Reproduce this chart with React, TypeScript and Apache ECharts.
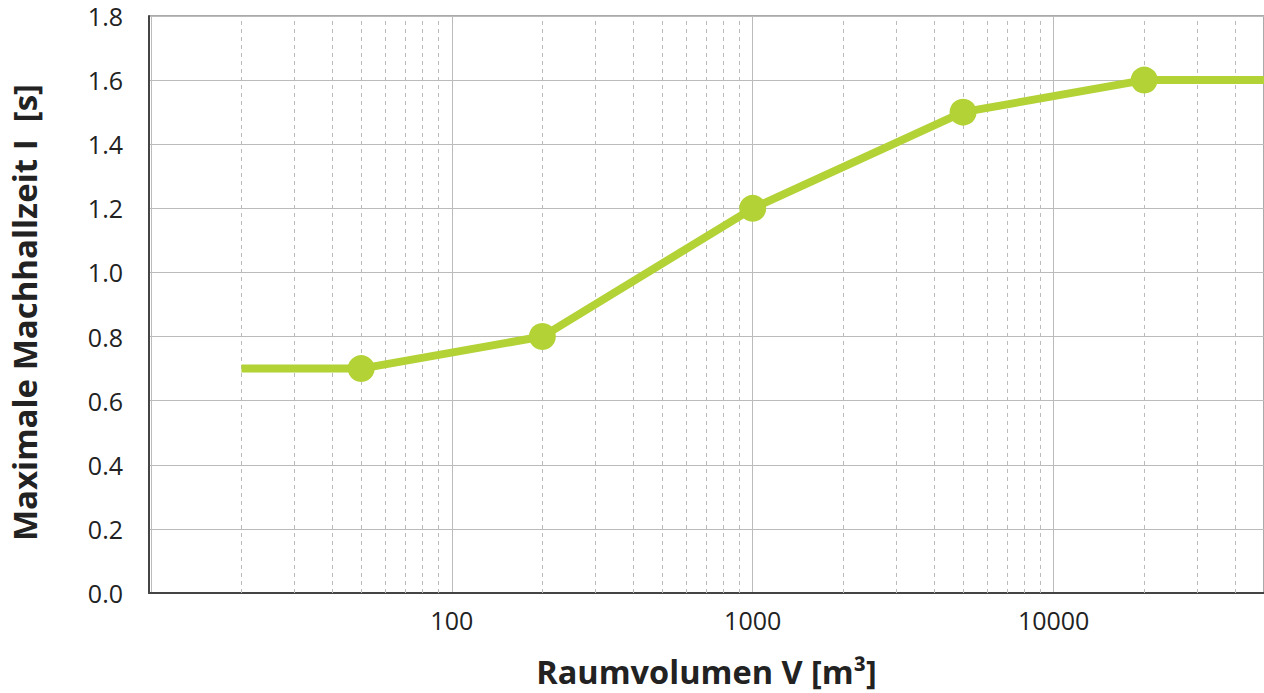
import React, { useEffect, useRef } from "react";
import * as echarts from "echarts";

const volumes = [20, 50, 200, 1000, 5000, 20000, 50000];
const reverbTimes = [0.7, 0.7, 0.8, 1.2, 1.5, 1.6, 1.6];
const markerVolumes = [50, 200, 1000, 5000, 20000];
const xLabelValues = [100, 1000, 10000];
const minorGridValues = [
  20, 30, 40, 50, 60, 70, 80, 90,
  200, 300, 400, 500, 600, 700, 800, 900,
  2000, 3000, 4000, 5000, 6000, 7000, 8000, 9000,
  20000, 30000, 40000,
];
const yTitle = "Maximale Machhallzeit I  [s]";
const xTitle = "Raumvolumen V [m³]";

export default function App() {
  const ref = useRef<HTMLDivElement>(null);
  useEffect(() => {
    const chart = echarts.init(ref.current!, undefined, { renderer: "svg" });
    const green = "#b2d235";
    const font = "'Open Sans', 'Noto Sans', sans-serif";
    chart.setOption({
      animation: false,
      grid: {
        left: 147,
        top: 16,
        bottom: 95,
        right: -4,
        show: true,
        borderColor: "#555",
        borderWidth: 1,
      },
      xAxis: {
        type: "log",
        logBase: 10,
        min: 9.86,
        max: 50000,
        name: xTitle,
        nameLocation: "middle",
        nameGap: 62,
        nameTextStyle: { fontFamily: font, fontSize: 32.5, fontWeight: "bold", color: "#222" },
        axisLine: { show: true, lineStyle: { color: "#444", width: 2 } },
        axisTick: { show: false },
        axisLabel: {
          fontFamily: font,
          fontSize: 25,
          color: "#222",
          margin: 14,
          showMinLabel: false,
          showMaxLabel: false,
          formatter: (v: number) => (xLabelValues.includes(Math.round(v)) ? String(Math.round(v)) : ""),
        },
        splitLine: { show: true, lineStyle: { color: "#bbb", width: 1 } },
      },
      yAxis: {
        type: "value",
        min: 0,
        max: 1.8,
        interval: 0.2,
        name: yTitle,
        nameLocation: "middle",
        nameGap: 108,
        nameTextStyle: {
          fontFamily: font,
          fontSize: 33,
          fontWeight: "bold",
          color: "#222",
          padding: [0, 16, 0, 0],
        },
        axisLine: { show: true, lineStyle: { color: "#444", width: 2 } },
        axisTick: { show: false },
        axisLabel: {
          fontFamily: font,
          fontSize: 25,
          color: "#222",
          margin: 26,
          formatter: (v: number) => v.toFixed(1),
        },
        splitLine: { show: true, lineStyle: { color: "#bbb", width: 1 } },
      },
      series: [
        {
          type: "line",
          data: volumes.map((v, i) => ({
            value: [v, reverbTimes[i]],
            symbolSize: markerVolumes.includes(v) ? 27 : 0,
          })),
          symbol: "circle",
          showSymbol: true,
          lineStyle: { color: green, width: 8 },
          itemStyle: { color: green },
          z: 5,
          markLine: {
            silent: true,
            symbol: "none",
            label: { show: false },
            lineStyle: { color: "#bbb", type: [4, 4], width: 1 },
            data: minorGridValues.map((v) => ({ xAxis: v })),
            z: 1,
          },
        },
      ],
    });
    return () => chart.dispose();
  }, []);
  return (
    <div
      ref={ref}
      style={{ position: "fixed", left: 0, top: 0, width: 1264, height: 693, background: "#fff" }}
    />
  );
}
